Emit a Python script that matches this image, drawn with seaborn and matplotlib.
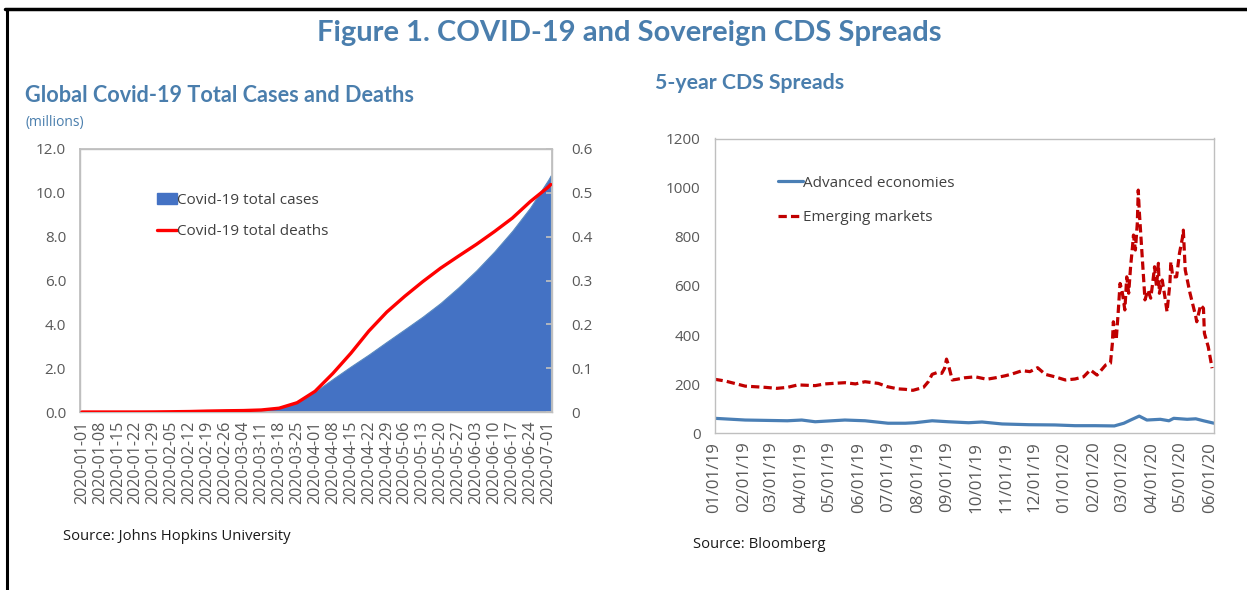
import numpy as np
import pandas as pd
import matplotlib.pyplot as plt
import matplotlib.dates as mdates
import seaborn as sns
from matplotlib.lines import Line2D
from matplotlib.patches import Patch

# --- data -------------------------------------------------------------------
covid_dates = ["2020-01-01", "2020-01-08", "2020-01-15", "2020-01-22", "2020-01-29",
               "2020-02-05", "2020-02-12", "2020-02-19", "2020-02-26", "2020-03-04",
               "2020-03-11", "2020-03-18", "2020-03-25", "2020-04-01", "2020-04-08",
               "2020-04-15", "2020-04-22", "2020-04-29", "2020-05-06", "2020-05-13",
               "2020-05-20", "2020-05-27", "2020-06-03", "2020-06-10", "2020-06-17",
               "2020-06-24", "2020-07-01", "2020-07-02"]
total_cases = [0.0, 0.0, 0.0, 0.0006, 0.006, 0.028, 0.045, 0.075, 0.082, 0.095,
               0.126, 0.215, 0.468, 0.932, 1.512, 2.079, 2.624, 3.203, 3.772, 4.349,
               4.975, 5.689, 6.464, 7.322, 8.266, 9.327, 10.589, 10.794]
total_deaths = [0.0, 0.0, 0.0, 0.00002, 0.00017, 0.00057, 0.0011, 0.0021, 0.0028, 0.0033,
                0.0046, 0.0087, 0.0212, 0.0472, 0.0883, 0.1342, 0.1847, 0.2280, 0.2639, 0.2972,
                0.3281, 0.3556, 0.3825, 0.4115, 0.4423, 0.4800, 0.5130, 0.5190]

em_dates = ["2019-01-01", "2019-01-12", "2019-02-02", "2019-02-23", "2019-03-07", "2019-03-18",
            "2019-03-29", "2019-04-16", "2019-04-26", "2019-05-17", "2019-05-28", "2019-06-07",
            "2019-06-21", "2019-06-30", "2019-07-11", "2019-07-19", "2019-07-27", "2019-08-07",
            "2019-08-12", "2019-08-16", "2019-08-21", "2019-08-26", "2019-08-29", "2019-08-31",
            "2019-09-02", "2019-09-06", "2019-09-11", "2019-09-19", "2019-09-30", "2019-10-12",
            "2019-10-21", "2019-10-31", "2019-11-07", "2019-11-18", "2019-11-26", "2019-12-04",
            "2019-12-12", "2019-12-22", "2020-01-02", "2020-01-12", "2020-01-21", "2020-01-28",
            "2020-02-04", "2020-02-13", "2020-02-18", "2020-02-20", "2020-02-21", "2020-02-24",
            "2020-02-26", "2020-02-28", "2020-03-01", "2020-03-04", "2020-03-06", "2020-03-08",
            "2020-03-10", "2020-03-12", "2020-03-13", "2020-03-15", "2020-03-17", "2020-03-18",
            "2020-03-19", "2020-03-21", "2020-03-23", "2020-03-25", "2020-03-28", "2020-03-31",
            "2020-04-02", "2020-04-04", "2020-04-06", "2020-04-08", "2020-04-09", "2020-04-12",
            "2020-04-15", "2020-04-17", "2020-04-20", "2020-04-21", "2020-04-23", "2020-04-27",
            "2020-04-30", "2020-05-03", "2020-05-04", "2020-05-06", "2020-05-11", "2020-05-17",
            "2020-05-18", "2020-05-22", "2020-05-25", "2020-05-26", "2020-05-30", "2020-06-03"]
em_spreads = [220, 213, 192, 187, 183, 187, 197, 194, 201, 206, 201, 210,
              203, 190, 181, 179, 175, 187, 210, 240, 247, 244, 265, 302,
              278, 217, 220, 226, 230, 220, 226, 234, 241, 255, 251, 267,
              240, 230, 217, 221, 230, 258, 237, 278, 285, 366, 454, 380,
              488, 610, 583, 502, 637, 570, 678, 760, 807, 746, 855, 990,
              909, 787, 665, 543, 583, 550, 610, 678, 597, 692, 570, 624,
              550, 495, 610, 698, 637, 637, 733, 794, 827, 665, 570, 475,
              454, 522, 509, 407, 352, 265]

ae_dates = ["2019-01-01", "2019-02-02", "2019-03-18", "2019-04-02", "2019-04-16", "2019-05-17",
            "2019-06-07", "2019-07-01", "2019-07-19", "2019-07-29", "2019-08-16", "2019-09-02",
            "2019-09-23", "2019-10-07", "2019-10-28", "2019-11-25", "2019-12-22", "2020-01-12",
            "2020-02-02", "2020-02-22", "2020-03-03", "2020-03-10", "2020-03-19", "2020-03-27",
            "2020-04-10", "2020-04-19", "2020-04-24", "2020-05-08", "2020-05-17", "2020-05-25",
            "2020-06-05"]
ae_spreads = [61, 54, 51, 54, 47, 54, 51, 41, 41, 43, 51, 47,
              43, 46, 38, 35, 34, 31, 31, 30, 41, 54, 70, 54,
              57, 51, 61, 57, 59, 51, 41]

covid_ticks = pd.date_range("2020-01-01", "2020-07-01", freq="7D")
cds_ticks = pd.date_range("2019-01-01", "2020-06-01", freq="MS")

# --- style ------------------------------------------------------------------
sns.set_theme(style="white")
plt.rcParams["font.family"] = ["Open Sans", "DejaVu Sans"]
TITLE_BLUE = "#4A7EAD"
GRID_GRAY = "#BFBFBF"
TEXT_GRAY = "#595959"


def style_axes(ax, xsize):
    for sp in ax.spines.values():
        sp.set_color(GRID_GRAY)
        sp.set_linewidth(1.0)
    ax.tick_params(axis="y", length=0, labelsize=11, labelcolor=TEXT_GRAY, pad=10)
    ax.tick_params(axis="x", direction="in", length=4, color=GRID_GRAY,
                   labelsize=xsize, labelcolor=TEXT_GRAY, rotation=90, pad=6)
    ax.set_xlabel("")
    ax.set_ylabel("")


fig = plt.figure(figsize=(12.47, 5.90), dpi=100)

# --- left: covid cases and deaths -------------------------------------------
ax1 = fig.add_axes([80 / 1247, 1 - 412 / 590, 472 / 1247, 263 / 590])
cdates = pd.to_datetime(covid_dates)
ax1.fill_between(cdates, total_cases, 0, color="#4472C4", edgecolor="#5A8AC0", lw=0.8, zorder=2)
ax1.set_ylim(0, 12)
ax1.set_yticks(np.arange(0, 12.1, 2))
ax1.set_yticklabels([f"{v:.1f}" for v in np.arange(0, 12.1, 2)])
ax1.set_xlim(pd.Timestamp("2020-01-01") - pd.Timedelta(hours=18),
             pd.Timestamp("2020-07-02") + pd.Timedelta(hours=12))
ax1.set_xticks(covid_ticks)
ax1.xaxis.set_major_formatter(mdates.DateFormatter("%Y-%m-%d"))
style_axes(ax1, 11.6)

ax1b = ax1.twinx()
sns.lineplot(x=cdates, y=total_deaths, ax=ax1b, color="#FF0000", lw=2.4, zorder=3)
ax1b.set_ylim(0, 0.6)
ax1b.set_yticks(np.arange(0, 0.61, 0.1))
ax1b.set_yticklabels(["0", "0.1", "0.2", "0.3", "0.4", "0.5", "0.6"])
ax1b.set_ylabel("")
for sp in ax1b.spines.values():
    sp.set_color(GRID_GRAY)
ax1b.tick_params(axis="y", direction="in", length=4, color=GRID_GRAY,
                 labelsize=11, labelcolor=TEXT_GRAY, pad=14)

handles1 = [Patch(facecolor="#4472C4", edgecolor="#4472C4"),
            Line2D([0], [0], color="#FF0000", lw=2.4)]
ax1b.legend(handles1, ["Covid-19 total cases", "Covid-19 total deaths"],
            loc="upper left", bbox_to_anchor=(0.135, 0.885), frameon=False,
            fontsize=11, handlelength=1.3, handletextpad=0.0, labelspacing=1.05,
            labelcolor="#404040")

# --- right: CDS spreads ----------------------------------------------------
ax2 = fig.add_axes([714.5 / 1247, 1 - 433.3 / 590, 499.5 / 1247, 294.8 / 590])
sns.lineplot(x=pd.to_datetime(ae_dates), y=ae_spreads, ax=ax2, color="#4A7FB5", lw=2.3)
sns.lineplot(x=pd.to_datetime(em_dates), y=em_spreads, ax=ax2, color="#C00000", lw=2.3)
ax2.lines[-1].set_linestyle((0, (2.6, 1.3)))
ax2.set_ylim(0, 1200)
ax2.set_yticks(np.arange(0, 1201, 200))
ax2.set_xlim(pd.Timestamp("2019-01-01"), pd.Timestamp("2020-06-05"))
ax2.set_xticks(cds_ticks)
ax2.xaxis.set_major_formatter(mdates.DateFormatter("%m/%d/%y"))
style_axes(ax2, 12.2)

handles2 = [Line2D([0], [0], color="#4A7FB5", lw=2.3),
            Line2D([0], [0], color="#C00000", lw=2.3, linestyle=(0, (2.6, 1.3)))]
ax2.legend(handles2, ["Advanced economies", "Emerging markets"],
           loc="upper left", bbox_to_anchor=(0.10, 0.92), frameon=False,
           fontsize=11, handlelength=1.6, handletextpad=0.0, labelspacing=1.25,
           labelcolor="#404040")

# --- titles and notes -------------------------------------------------------
fig.text(629 / 1247, 1 - 33 / 590, "Figure 1. COVID-19 and Sovereign CDS Spreads",
         ha="center", va="center", fontsize=21, fontweight="bold", color=TITLE_BLUE,
         family=["Lato", "DejaVu Sans"])
fig.text(25 / 1247, 1 - 96 / 590, "Global Covid-19 Total Cases and Deaths",
         ha="left", va="center", fontsize=15.6, fontweight="bold", color=TITLE_BLUE,
         family=["Lato", "DejaVu Sans"])
fig.text(25 / 1247, 1 - 123 / 590, "(millions)", ha="left", va="center",
         fontsize=10, color=TITLE_BLUE)
fig.text(655 / 1247, 1 - 83 / 590, "5-year CDS Spreads",
         ha="left", va="center", fontsize=15.3, fontweight="bold", color=TITLE_BLUE,
         family=["Lato", "DejaVu Sans"])
fig.text(63 / 1247, 1 - 537 / 590, "Source: Johns Hopkins University", ha="left",
         va="center", fontsize=10.7, color="#1A1A1A")
fig.text(693 / 1247, 1 - 545 / 590, "Source: Bloomberg", ha="left",
         va="center", fontsize=10.7, color="#1A1A1A")

# frame lines at the top and left edge
fig.add_artist(Line2D([5 / 1247, 1], [1 - 9 / 590, 1 - 9 / 590], color="black", lw=2.5,
                      transform=fig.transFigure))
fig.add_artist(Line2D([6.5 / 1247, 6.5 / 1247], [0, 1 - 9 / 590], color="black", lw=2.2,
                      transform=fig.transFigure))

fig.savefig("out.png", dpi=100)
